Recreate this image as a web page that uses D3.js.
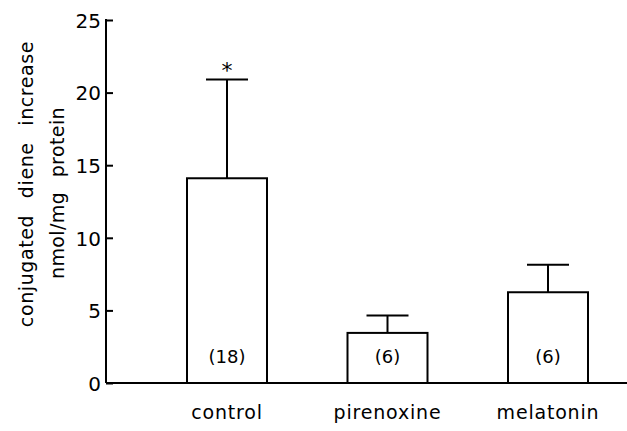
<!DOCTYPE html>
<html>
<head>
<meta charset="utf-8">
<script src="https://cdn.jsdelivr.net/npm/d3@7"></script>
<style>
  body { margin: 0; background: #fff; }
  svg text { font-family: "DejaVu Sans", sans-serif; fill: #000; }
</style>
</head>
<body>
<div id="chart"></div>
<script>
// data
var categories = ["control", "pirenoxine", "melatonin"];
var means = [14.1, 3.45, 6.25];
var errors = [6.8, 1.2, 1.9];
var counts = ["(18)", "(6)", "(6)"];
var yTicks = [0, 5, 10, 15, 20, 25];

var width = 627;
var height = 431;

var svg = d3.select("#chart")
  .append("svg")
  .attr("width", width)
  .attr("height", height);

// scales
var xScale = d3.scalePoint()
  .domain(categories)
  .range([227, 548]);
var barW = 80;

var yScale = d3.scaleLinear()
  .domain([0, 25])
  .range([383, 20]);

// y axis, ticks pointing inward
var yAxis = d3.axisRight(yScale)
  .tickValues(yTicks)
  .tickSize(7)
  .tickFormat(d3.format("d"));

var yG = svg.append("g")
  .attr("transform", "translate(106,0)")
  .call(yAxis);
yG.select(".domain").remove();
yG.selectAll(".tick line").attr("stroke", "#000").attr("stroke-width", 2);
yG.selectAll(".tick text")
  .attr("x", -5)
  .attr("dy", "0.36em")
  .attr("text-anchor", "end")
  .attr("font-size", 20);

svg.append("line")
  .attr("x1", 106).attr("x2", 106)
  .attr("y1", yScale(25) - 1).attr("y2", yScale(0))
  .attr("stroke", "#000").attr("stroke-width", 2);

// bars
var bars = svg.selectAll("g.bar")
  .data(categories)
  .enter()
  .append("g")
  .attr("class", "bar");

bars.append("line")
  .attr("x1", function(d) { return xScale(d); })
  .attr("x2", function(d) { return xScale(d); })
  .attr("y1", function(d, i) { return yScale(means[i]); })
  .attr("y2", function(d, i) { return yScale(means[i] + errors[i]); })
  .attr("stroke", "#000").attr("stroke-width", 2);

bars.append("line")
  .attr("x1", function(d) { return xScale(d) - 21; })
  .attr("x2", function(d) { return xScale(d) + 21; })
  .attr("y1", function(d, i) { return yScale(means[i] + errors[i]); })
  .attr("y2", function(d, i) { return yScale(means[i] + errors[i]); })
  .attr("stroke", "#000").attr("stroke-width", 2);

bars.append("rect")
  .attr("x", function(d) { return xScale(d) - barW / 2; })
  .attr("y", function(d, i) { return yScale(means[i]); })
  .attr("width", barW)
  .attr("height", function(d, i) { return yScale(0) - yScale(means[i]); })
  .attr("fill", "#fff")
  .attr("stroke", "#000").attr("stroke-width", 2);

bars.append("text")
  .attr("x", function(d) { return xScale(d); })
  .attr("y", 363)
  .attr("text-anchor", "middle")
  .attr("font-size", 18)
  .text(function(d, i) { return counts[i]; });

// x baseline
svg.append("line")
  .attr("x1", 106).attr("x2", width)
  .attr("y1", yScale(0)).attr("y2", yScale(0))
  .attr("stroke", "#000").attr("stroke-width", 2);

// category labels
svg.selectAll("text.cat")
  .data(categories)
  .enter()
  .append("text")
  .attr("class", "cat")
  .attr("x", function(d) { return xScale(d); })
  .attr("y", 419)
  .attr("text-anchor", "middle")
  .attr("font-size", 19)
  .attr("letter-spacing", 0.8)
  .text(function(d) { return d; });

// significance marker
svg.append("text")
  .attr("x", xScale("control"))
  .attr("y", yScale(means[0] + errors[0]) - 2)
  .attr("text-anchor", "middle")
  .attr("font-size", 22)
  .text("*");

// y label
var yLab = svg.append("g");
yLab.append("text")
  .attr("transform", "translate(33,184)rotate(-90)")
  .attr("text-anchor", "middle")
  .attr("font-size", 19)
  .attr("letter-spacing", 0.6)
  .attr("word-spacing", 10)
  .text("conjugated diene increase");
yLab.append("text")
  .attr("transform", "translate(64,193)rotate(-90)")
  .attr("text-anchor", "middle")
  .attr("font-size", 19)
  .attr("letter-spacing", 0.4)
  .attr("word-spacing", 8)
  .text("nmol/mg protein");
</script>
</body>
</html>
